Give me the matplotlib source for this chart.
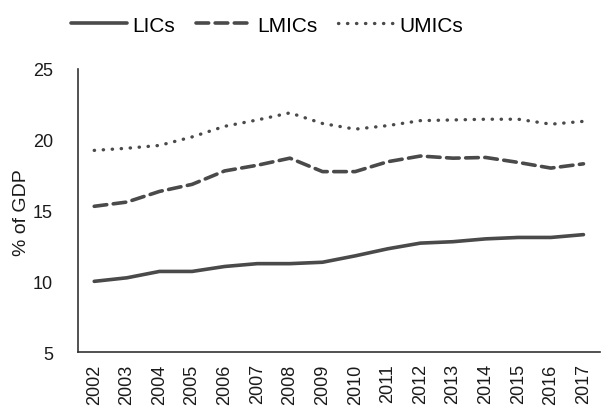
import matplotlib.pyplot as plt
import numpy as np

years = [str(y) for y in range(2002, 2018)]
lics = [10.0, 10.25, 10.7, 10.7, 11.05, 11.25, 11.25, 11.35, 11.8, 12.3, 12.7, 12.8, 13.0, 13.1, 13.1, 13.3]
lmics = [15.3, 15.6, 16.35, 16.85, 17.8, 18.2, 18.7, 17.75, 17.75, 18.45, 18.85, 18.7, 18.75, 18.4, 18.0, 18.3]
umics = [19.25, 19.4, 19.6, 20.2, 20.95, 21.4, 21.9, 21.15, 20.75, 21.0, 21.35, 21.4, 21.45, 21.45, 21.1, 21.3]

plt.rcParams['font.family'] = ['Liberation Sans', 'DejaVu Sans']
col = '#4a4a4a'
txt = '#1a1a1a'

fig = plt.figure(figsize=(6.04, 4.14), dpi=100)
ax = fig.add_axes([0.129, 0.147, 0.864, 0.684])
x = np.arange(len(years))
ax.plot(x, lics, color=col, lw=2.6, ls='-', label='LICs', solid_capstyle='round')
ax.plot(x, lmics, color=col, lw=2.6, ls=(0, (3.5, 1.8)), label='LMICs', dash_capstyle='round')
ax.plot(x, umics, color=col, lw=2.4, ls=(0, (0.1, 2.6)), label='UMICs', dash_capstyle='round')

ax.set_xlim(-0.5, len(years) - 0.5)
ax.set_ylim(5, 25)
ax.set_yticks([5, 10, 15, 20, 25])
ax.set_xticks(x)
ax.set_xticklabels(years, rotation=90)
ax.tick_params(length=0, labelsize=13, colors=txt, pad=8)
ax.tick_params(axis='y', pad=18)
ax.set_ylabel('% of GDP', fontsize=14, color=txt)
ax.yaxis.set_label_coords(-0.092, 0.495)
for s in ['top', 'right']:
    ax.spines[s].set_visible(False)
for s in ['left', 'bottom']:
    ax.spines[s].set_color('#333333')
    ax.spines[s].set_linewidth(1.2)

fig.legend(loc='upper center', bbox_to_anchor=(0.442, 1.005), ncol=3, frameon=False,
           fontsize=15, handlelength=2.7, columnspacing=1.0, handletextpad=0.25)

fig.savefig('out.png', dpi=100)
